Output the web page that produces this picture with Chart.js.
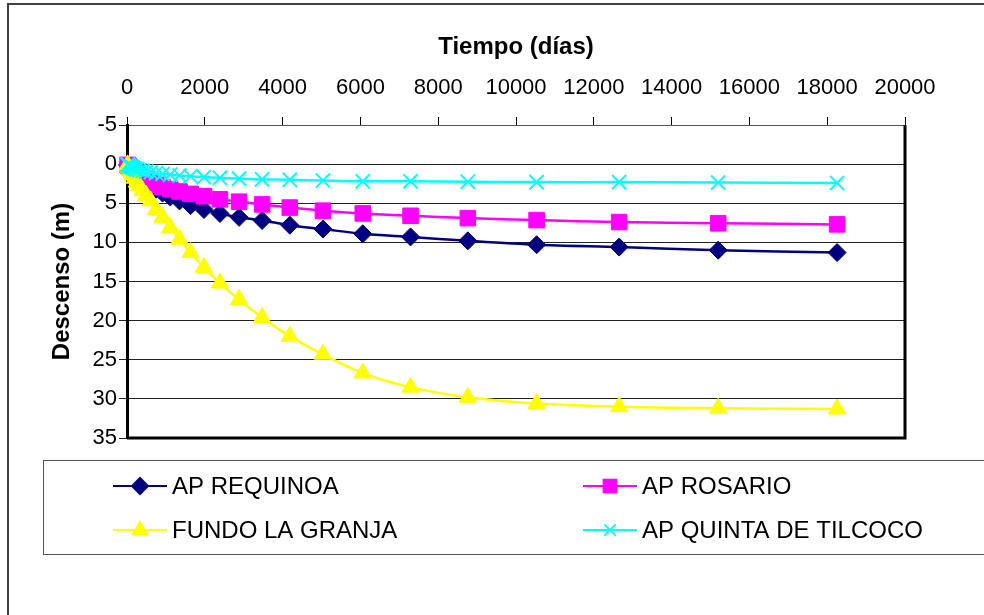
<!DOCTYPE html>
<html>
<head>
<meta charset="utf-8">
<script src="https://cdn.jsdelivr.net/npm/chart.js@4/dist/chart.umd.min.js"></script>
<style>
  html, body { margin: 0; padding: 0; background: #fff; }
  canvas { display: block; }
</style>
</head>
<body>
<canvas id="descensoChart" width="984" height="615"></canvas>
<script>
// Tiempo (días) de cada paso
const tiempos = [15, 34, 56, 83, 115, 153, 199, 255, 321, 401, 496, 611, 749, 914, 1112,
    1350, 1635, 1978, 2389, 2882, 3474, 4185, 5038, 6061, 7289, 8762, 10530, 12652, 15198, 18254];

// Descenso (m) por pozo
const apRequinoa = [0.1, 0.2, 0.35, 0.5, 0.7, 0.9, 1.1, 1.4, 1.7, 2.0, 2.4, 2.8, 3.2, 3.7, 4.2,
    4.7, 5.3, 5.8, 6.3, 6.8, 7.2, 7.8, 8.3, 8.9, 9.3, 9.8, 10.3, 10.6, 11.0, 11.3];
const apRosario = [0.1, 0.2, 0.3, 0.45, 0.6, 0.8, 1.0, 1.25, 1.5, 1.75, 2.05, 2.35, 2.65, 2.95, 3.2,
    3.5, 3.8, 4.1, 4.5, 4.8, 5.15, 5.55, 5.95, 6.3, 6.6, 6.9, 7.15, 7.4, 7.55, 7.7];
const fundoLaGranja = [0.1, 0.3, 0.5, 0.8, 1.1, 1.4, 1.8, 2.3, 2.8, 3.4, 4.0, 4.7, 5.8, 6.8, 8.1,
    9.6, 11.3, 13.2, 15.2, 17.3, 19.6, 22.0, 24.3, 26.7, 28.5, 29.8, 30.6, 31.0, 31.2, 31.3];
const apQuintaTilcoco = [0.05, 0.1, 0.2, 0.3, 0.35, 0.45, 0.55, 0.65, 0.75, 0.85, 0.95, 1.05, 1.15, 1.25, 1.35,
    1.45, 1.55, 1.65, 1.75, 1.85, 1.95, 2.0, 2.1, 2.2, 2.2, 2.25, 2.3, 2.3, 2.35, 2.4];

const seriesNames = ['AP REQUINOA', 'AP ROSARIO', 'FUNDO LA GRANJA', 'AP QUINTA DE TILCOCO'];
const xTicks = [0, 2000, 4000, 6000, 8000, 10000, 12000, 14000, 16000, 18000, 20000];
const yTicks = [-5, 0, 5, 10, 15, 20, 25, 30, 35];

const FONT = "'Liberation Sans', Arial, sans-serif";

function toPoints(values) {
    return tiempos.map((t, i) => ({ x: t, y: values[i] }));
}

function makeSeries(label, values, color, style, radius, order) {
    return {
        label: label,
        data: toPoints(values),
        borderColor: color,
        backgroundColor: color,
        borderWidth: 2.5,
        pointStyle: style,
        pointRadius: radius,
        pointHoverRadius: radius,
        pointBackgroundColor: color,
        pointBorderColor: color,
        pointBorderWidth: style === 'crossRot' ? 2 : 1,
        tension: 0.3,
        fill: false,
        clip: false,
        order: order
    };
}

// frame round the whole chart
const framePlugin = {
    id: 'frame',
    beforeDraw(chart) {
        const ctx = chart.ctx;
        ctx.save();
        ctx.fillStyle = '#fff';
        ctx.fillRect(0, 0, chart.width, chart.height);
        ctx.strokeStyle = '#404040';
        ctx.lineWidth = 2;
        ctx.beginPath();
        ctx.moveTo(8, chart.height);
        ctx.lineTo(8, 4);
        ctx.lineTo(chart.width, 4);
        ctx.stroke();
        ctx.restore();
    },
    afterDraw(chart) {
        // thick right and bottom edges of the plot area
        const a = chart.chartArea;
        const ctx = chart.ctx;
        ctx.save();
        ctx.strokeStyle = '#000';
        ctx.lineWidth = 3;
        ctx.beginPath();
        ctx.moveTo(a.right, a.top);
        ctx.lineTo(a.right, a.bottom);
        ctx.lineTo(a.left, a.bottom);
        ctx.stroke();
        ctx.restore();
    }
};

// legend in a box, two columns
const boxLegendPlugin = {
    id: 'boxLegend',
    afterDraw(chart) {
        const ctx = chart.ctx;
        ctx.save();
        ctx.strokeStyle = '#555';
        ctx.lineWidth = 1;
        ctx.strokeRect(43.5, 460.5, 1000, 94);

        ctx.font = '24px ' + FONT;
        ctx.textBaseline = 'middle';
        ctx.textAlign = 'left';
        chart.data.datasets.forEach((ds, i) => {
            const x0 = (i % 2) ? 583 : 113;
            const y = (i < 2) ? 486 : 530;
            ctx.strokeStyle = ds.borderColor;
            ctx.fillStyle = ds.borderColor;
            ctx.lineWidth = 2;
            ctx.beginPath();
            ctx.moveTo(x0, y);
            ctx.lineTo(x0 + 54, y);
            ctx.stroke();
            Chart.helpers.drawPoint(ctx, {
                pointStyle: ds.pointStyle,
                radius: ds.pointStyle === 'rect' ? 9 : 8,
                rotation: 0,
                borderWidth: ds.pointBorderWidth
            }, x0 + 27, y);
            ctx.fillStyle = '#000';
            ctx.fillText(ds.label, x0 + 59, y + 1);
        });
        ctx.restore();
    }
};

const ctx = document.getElementById('descensoChart');
new Chart(ctx, {
    type: 'line',
    data: {
        datasets: [
            makeSeries(seriesNames[0], apRequinoa, '#000080', 'rectRot', 9, 3),
            makeSeries(seriesNames[1], apRosario, '#FF00FF', 'rect', 11, 2),
            makeSeries(seriesNames[2], fundoLaGranja, '#FFFF00', 'triangle', 10, 1),
            makeSeries(seriesNames[3], apQuintaTilcoco, '#00FFFF', 'crossRot', 10, 0)
        ]
    },
    options: {
        responsive: false,
        animation: false,
        events: [],
        layout: { padding: { left: 0, top: 0, right: 79, bottom: 177 } },
        plugins: {
            legend: { display: false },
            tooltip: { enabled: false }
        },
        scales: {
            x: {
                type: 'linear',
                position: 'top',
                min: 0,
                max: 20000,
                afterBuildTicks: s => { s.ticks = xTicks.map(v => ({ value: v })); },
                afterFit: s => { s.height = 125; },
                ticks: {
                    color: '#000',
                    padding: 16,
                    maxRotation: 0,
                    autoSkip: false,
                    callback: v => String(v),
                    font: { family: FONT, size: 22 }
                },
                grid: {
                    drawOnChartArea: false,
                    drawTicks: true,
                    tickLength: 8,
                    color: '#000'
                },
                border: { display: true, color: '#555', width: 1 },
                title: {
                    display: true,
                    text: 'Tiempo (días)',
                    color: '#000',
                    padding: { top: 33, bottom: 0 },
                    font: { family: FONT, size: 24, weight: 'bold' }
                }
            },
            y: {
                type: 'linear',
                position: 'left',
                reverse: true,
                min: -5,
                max: 35,
                afterBuildTicks: s => { s.ticks = yTicks.map(v => ({ value: v })); },
                afterFit: s => { s.width = 127; },
                ticks: {
                    color: '#000',
                    padding: 2,
                    callback: v => String(v),
                    font: { family: FONT, size: 22 }
                },
                grid: {
                    color: '#222',
                    lineWidth: 1,
                    drawTicks: true,
                    tickLength: 8
                },
                border: { display: true, color: '#000', width: 3 },
                title: {
                    display: true,
                    text: 'Descenso (m)',
                    color: '#000',
                    padding: { top: 48, bottom: 0 },
                    font: { family: FONT, size: 24, weight: 'bold' }
                }
            }
        }
    },
    plugins: [framePlugin, boxLegendPlugin]
});
</script>
</body>
</html>
